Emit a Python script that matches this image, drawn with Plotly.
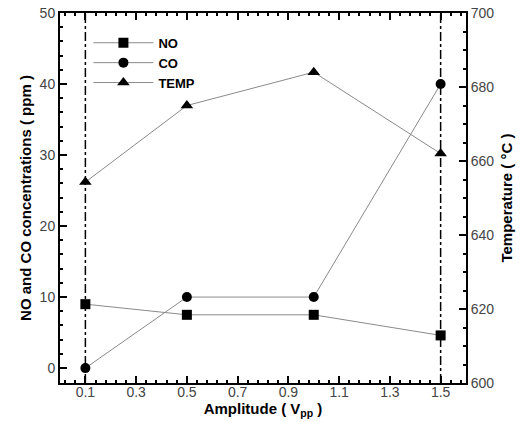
import plotly.graph_objects as go

amplitude = [0.1, 0.5, 1.0, 1.5]
no_ppm = [9.0, 7.5, 7.5, 4.6]
co_ppm = [0.0, 10.0, 10.0, 40.0]
temp_c = [654.3, 675.0, 684.0, 662.0]
guide_x = [0.1, 1.5]

FONT = "Liberation Sans, Arial, sans-serif"
line_col = "#8a8a8a"

fig = go.Figure()
fig.add_trace(go.Scatter(x=amplitude, y=no_ppm, name="NO", mode="lines+markers",
                         line=dict(color=line_col, width=1),
                         marker=dict(symbol="square", size=10, color="black")))
fig.add_trace(go.Scatter(x=amplitude, y=co_ppm, name="CO", mode="lines+markers",
                         line=dict(color=line_col, width=1),
                         marker=dict(symbol="circle", size=10, color="black")))
fig.add_trace(go.Scatter(x=amplitude, y=temp_c, name="TEMP", mode="lines+markers",
                         yaxis="y2",
                         line=dict(color=line_col, width=1),
                         marker=dict(symbol="triangle-up", size=11, color="black")))

for gx in guide_x:
    fig.add_shape(type="line", x0=gx, x1=gx, y0=0, y1=1, xref="x", yref="paper",
                  line=dict(color="black", width=1.5, dash="dashdot"), layer="below")

tickfont = dict(family=FONT, size=14, color="#444444")
titlefont = dict(family=FONT, size=15, color="black")

fig.update_layout(
    width=524, height=422,
    margin=dict(l=60, r=58, t=13, b=39),
    paper_bgcolor="white", plot_bgcolor="white",
    showlegend=True,
    legend=dict(x=0.07, y=0.96, xanchor="left", yanchor="top",
                bgcolor="rgba(0,0,0,0)", font=dict(family=FONT, size=13, color="black", weight="bold"),
                tracegroupgap=0, itemwidth=60),
    xaxis=dict(range=[0, 1.6], tick0=0.1, dtick=0.2, ticks="inside", ticklen=7, tickwidth=1.5,
               tickcolor="black", showline=True, linewidth=2, linecolor="black", mirror="ticks",
               showgrid=False, zeroline=False, tickfont=tickfont, automargin=False,
               ticklabelstandoff=-5,
               minor=dict(tick0=0.1, dtick=0.04, ticks="inside", ticklen=3, tickcolor="black", showgrid=False),
               title=dict(text="<b>Amplitude ( V<sub>pp</sub> )</b>", font=titlefont, standoff=0)),
    yaxis=dict(range=[-2.1, 50], tick0=0, dtick=10, ticks="inside", ticklen=7, tickwidth=1.5,
               tickcolor="black", showline=True, linewidth=2, linecolor="black",
               showgrid=False, zeroline=False, tickfont=tickfont, automargin=False,
               minor=dict(tick0=0, dtick=2, ticks="inside", ticklen=3, tickcolor="black", showgrid=False),
               title=dict(text="<b>NO and CO concentrations ( ppm )</b>", font=titlefont, standoff=4)),
    yaxis2=dict(range=[600, 700], tick0=600, dtick=20, ticks="inside", ticklen=7, tickwidth=1.5,
                tickcolor="black", showline=True, linewidth=2, linecolor="black",
                overlaying="y", side="right", anchor="x",
                showgrid=False, zeroline=False, tickfont=tickfont, automargin=False,
                minor=dict(tick0=600, dtick=5, ticks="inside", ticklen=3, tickcolor="black", showgrid=False),
                title=dict(text="<b>Temperature ( °C )</b>", font=titlefont, standoff=8)),
)

fig.write_html("out.html")
